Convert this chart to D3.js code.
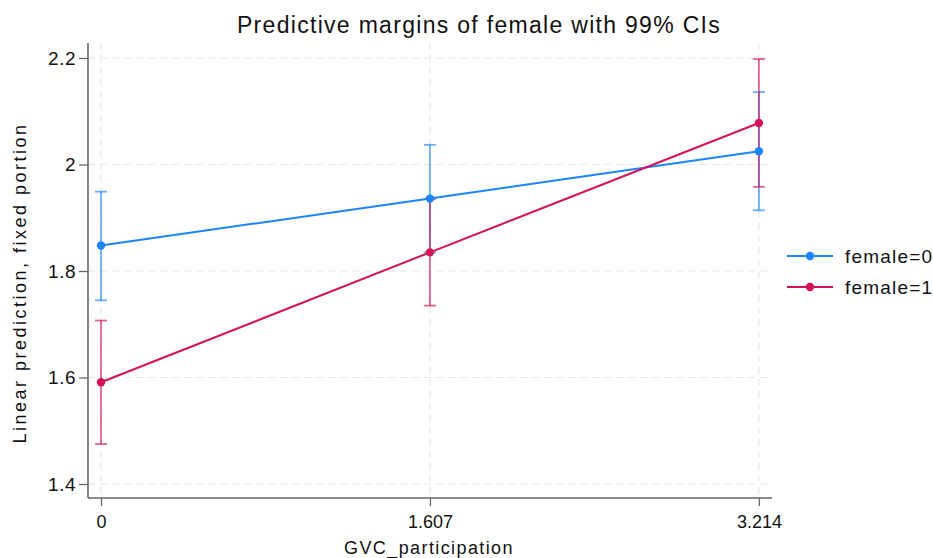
<!DOCTYPE html>
<html>
<head>
<meta charset="utf-8">
<script src="https://cdn.jsdelivr.net/npm/d3@7"></script>
<style>
  html, body { margin: 0; padding: 0; background: #fff; }
  svg { display: block; font-family: "Liberation Sans", Arial, Helvetica, sans-serif; }
</style>
</head>
<body>
<svg id="chart" width="933" height="558"></svg>
<script>
// Predictive margins (99% CIs) at three GVC_participation levels
const xValues = [0, 1.607, 3.214];
const xTickLabels = ["0", "1.607", "3.214"];
const yTicks = [1.4, 1.6, 1.8, 2.0, 2.2];
const yTickLabels = ["1.4", "1.6", "1.8", "2", "2.2"];

const seriesNames = ["female=0", "female=1"];
const female0 = [1.848, 1.936, 2.025];
const female0Lo = [1.745, 1.835, 1.914];
const female0Hi = [1.949, 2.037, 2.136];
const female1 = [1.591, 1.835, 2.078];
const female1Lo = [1.475, 1.735, 1.958];
const female1Hi = [1.707, 1.935, 2.198];

const colors = ["#1a85ff", "#d41159"];

const series = [
  { name: seriesNames[0], mid: female0, lo: female0Lo, hi: female0Hi, color: colors[0] },
  { name: seriesNames[1], mid: female1, lo: female1Lo, hi: female1Hi, color: colors[1] }
];

const svg = d3.select("#chart");
const plotLeft = 88, plotRight = 772, plotTop = 43, plotBottom = 498;

const x = d3.scaleLinear().domain([-0.0635, 3.278]).range([plotLeft, plotRight]);
const y = d3.scaleLinear().domain([1.4, 2.2]).range([484, 58]);

// Grid
const grid = svg.append("g").attr("stroke", "#e6e6e6").attr("stroke-width", 1.2).attr("stroke-dasharray", "7,5");
grid.selectAll("line.h").data(yTicks).join("line").attr("class", "h")
  .attr("x1", plotLeft).attr("x2", plotRight)
  .attr("y1", d => y(d)).attr("y2", d => y(d));
grid.selectAll("line.v").data(xValues).join("line").attr("class", "v")
  .attr("x1", d => x(d)).attr("x2", d => x(d))
  .attr("y1", plotTop).attr("y2", plotBottom);

// Axes
const axisColor = "#666";
const yAxis = svg.append("g").attr("transform", `translate(${plotLeft},0)`)
  .call(d3.axisLeft(y).tickValues(yTicks).tickFormat((d, i) => yTickLabels[i]).tickSize(9).tickPadding(3));
yAxis.select(".domain").remove();
svg.append("line").attr("x1", plotLeft).attr("x2", plotLeft).attr("y1", plotTop).attr("y2", plotBottom)
  .attr("stroke", axisColor).attr("stroke-width", 1.6);

const xAxis = svg.append("g").attr("transform", `translate(0,${plotBottom})`)
  .call(d3.axisBottom(x).tickValues(xValues).tickFormat((d, i) => xTickLabels[i]).tickSize(8).tickPadding(9));
xAxis.select(".domain").remove();
svg.append("line").attr("x1", plotLeft).attr("x2", plotRight).attr("y1", plotBottom).attr("y2", plotBottom)
  .attr("stroke", axisColor).attr("stroke-width", 1.6);

[yAxis, xAxis].forEach(a => {
  a.selectAll(".tick line").attr("stroke", axisColor).attr("stroke-width", 1.3);
  a.selectAll(".tick text").attr("fill", "#111").attr("font-size", 18)
    .attr("font-family", "'Liberation Sans', Arial, sans-serif");
});
yAxis.selectAll(".tick text").attr("font-size", 19).attr("letter-spacing", 0.5);

// Confidence intervals
series.forEach(s => {
  const g = svg.append("g").attr("stroke", s.color).attr("stroke-opacity", 0.65).attr("stroke-width", 1.8);
  xValues.forEach((xv, i) => {
    g.append("line").attr("x1", x(xv)).attr("x2", x(xv)).attr("y1", y(s.lo[i])).attr("y2", y(s.hi[i]));
    [s.lo[i], s.hi[i]].forEach(v => {
      g.append("line").attr("x1", x(xv) - 6).attr("x2", x(xv) + 6).attr("y1", y(v)).attr("y2", y(v));
    });
  });
});

// Lines and markers
const line = d3.line().x((d, i) => x(xValues[i])).y(d => y(d));
series.forEach(s => {
  svg.append("path").datum(s.mid).attr("d", line)
    .attr("fill", "none").attr("stroke", s.color).attr("stroke-width", 2);
  svg.append("g").selectAll("circle").data(s.mid).join("circle")
    .attr("cx", (d, i) => x(xValues[i])).attr("cy", d => y(d)).attr("r", 4.2)
    .attr("fill", s.color);
});

// Legend
const legend = svg.append("g");
series.forEach((s, i) => {
  const ly = 256 + i * 31;
  legend.append("line").attr("x1", 787).attr("x2", 833).attr("y1", ly).attr("y2", ly)
    .attr("stroke", s.color).attr("stroke-width", 2);
  legend.append("circle").attr("cx", 810).attr("cy", ly).attr("r", 4.2).attr("fill", s.color);
  legend.append("text").attr("x", 845).attr("y", ly).attr("dy", "0.35em")
    .attr("font-size", 19).attr("letter-spacing", 1.2).attr("fill", "#111").text(s.name);
});

// Titles
svg.append("text").attr("x", 479).attr("y", 33).attr("text-anchor", "middle")
  .attr("font-size", 23).attr("letter-spacing", 1.3).attr("fill", "#111")
  .text("Predictive margins of female with 99% CIs");
svg.append("text").attr("x", 429).attr("y", 554).attr("text-anchor", "middle")
  .attr("font-size", 18).attr("letter-spacing", 1.4).attr("fill", "#111").text("GVC_participation");
svg.append("text").attr("transform", "translate(26,283) rotate(-90)").attr("text-anchor", "middle")
  .attr("font-size", 18).attr("letter-spacing", 2.5).attr("fill", "#111").text("Linear prediction, fixed portion");
</script>
</body>
</html>
